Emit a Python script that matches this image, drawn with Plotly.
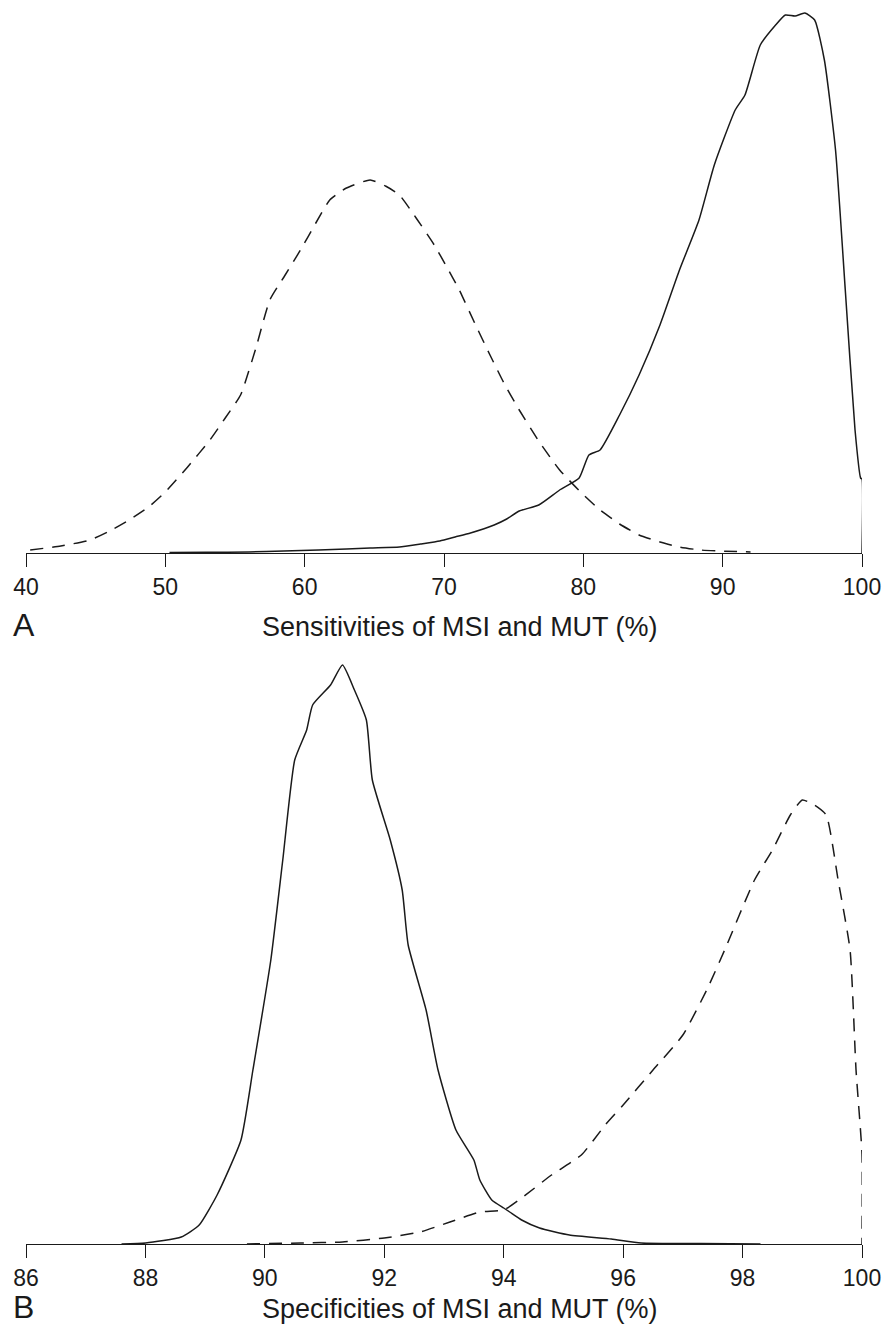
import plotly.graph_objects as go
from plotly.subplots import make_subplots

# Panel A: sensitivities (x in %, y = relative density)
sens_msi_x = [40.3, 42.5, 44.6, 46.0, 47.4, 48.8, 50.0, 51.6, 53.2, 54.3, 55.4, 56.5, 57.5, 58.6, 59.7,
              60.8, 61.8, 63.0, 64.7, 65.8, 66.8, 68.0, 69.3, 70.2, 71.1, 72.2, 73.3, 74.3, 75.4,
              76.8, 78.3, 79.8, 81.2, 82.6, 84.0, 85.5, 86.9, 88.4, 89.8, 92.0]
sens_msi_y = [3, 7, 13, 22, 33, 46, 61, 86, 113, 135, 158, 205, 253, 278, 303,
              330, 353, 365, 373, 367, 358, 335, 308, 286, 263, 230, 198, 170, 143,
              112, 83, 61, 43, 29, 18, 11, 6, 3, 2, 1]
sens_mut_x = [50.3, 53.0, 56.0, 58.5, 61.0, 63.0, 64.7, 66.8, 68.3, 69.7, 70.8, 71.9, 73.6, 74.5, 75.4,
              76.8, 78.3, 79.7, 80.4, 81.2, 82.6, 84.0, 85.5, 86.9, 88.3, 89.4, 90.9, 91.6,
              92.7, 93.8, 94.5, 95.2, 95.9, 96.6, 97.3, 98.1, 98.8, 99.5, 99.9, 100.0, 100.0]
sens_mut_y = [0.5, 0.7, 1, 2, 3, 4, 5, 6, 9, 12, 16, 20, 28, 34, 42,
              48, 63, 75, 98, 103, 138, 178, 228, 283, 333, 388, 443, 458,
              508, 528, 538, 537, 540, 533, 493, 403, 263, 123, 75, 74, 0]

# Panel B: specificities
spec_mut_x = [87.6, 88.0, 88.6, 88.9, 89.2, 89.6, 89.8, 90.1, 90.3, 90.5, 90.7, 90.8, 91.1, 91.3,
              91.5, 91.7, 91.8, 92.1, 92.3, 92.4, 92.7, 92.9, 93.2, 93.5, 93.6, 93.8, 94.0,
              94.1, 94.3, 94.6, 95.1, 95.8, 96.3, 97.3, 98.3]
spec_mut_y = [0, 1, 7, 19, 49, 104, 174, 284, 384, 484, 514, 539, 559, 579,
              554, 524, 464, 404, 354, 299, 234, 174, 114, 84, 64, 44, 36,
              32, 24, 16, 9, 5, 1, 0.5, 0]
spec_msi_x = [89.7, 90.6, 91.3, 92.0, 92.6, 93.1, 93.6, 94.0, 94.3, 94.8, 95.3, 95.7, 96.0, 96.5,
              97.0, 97.4, 97.7, 98.2, 98.5, 98.8, 99.0, 99.2, 99.4, 99.6, 99.8, 99.9, 100.0, 100.0]
spec_msi_y = [0, 1, 2, 6, 12, 22, 32, 34, 46, 69, 89, 119, 139, 174,
              209, 254, 294, 364, 394, 429, 444, 439, 429, 364, 294, 174, 90, 0]

sens_ticks = [40, 50, 60, 70, 80, 90, 100]
spec_ticks = [86, 88, 90, 92, 94, 96, 98, 100]

fig = make_subplots(rows=2, cols=1)

line_solid = dict(color="#1a1a1a", width=1.5, shape="spline", smoothing=0.5)
line_dash = dict(color="#1a1a1a", width=1.5, dash="13px,9px", shape="spline", smoothing=0.5)

fig.add_trace(go.Scatter(x=sens_msi_x, y=sens_msi_y, mode="lines", line=line_dash, name="MSI"), row=1, col=1)
fig.add_trace(go.Scatter(x=sens_mut_x, y=sens_mut_y, mode="lines", line=line_solid, name="MUT"), row=1, col=1)
fig.add_trace(go.Scatter(x=spec_mut_x, y=spec_mut_y, mode="lines", line=line_solid, name="MUT"), row=2, col=1)
fig.add_trace(go.Scatter(x=spec_msi_x, y=spec_msi_y, mode="lines", line=line_dash, name="MSI"), row=2, col=1)

H = 1334.0
axis_common = dict(showline=True, linecolor="#1a1a1a", linewidth=1.4, ticks="outside", ticklen=13,
                   tickwidth=1.4, tickcolor="#1a1a1a", showgrid=False, zeroline=False,
                   tickfont=dict(family="Liberation Sans, Arial, sans-serif", size=23, color="#1a1a1a"),
                   automargin=False)
fig.update_xaxes(range=[40, 100], tickvals=sens_ticks, row=1, col=1, **axis_common)
fig.update_xaxes(range=[86, 100], tickvals=spec_ticks, row=2, col=1, **axis_common)
fig.update_yaxes(visible=False, showgrid=False, zeroline=False, range=[0, 553], domain=[(H - 553) / H, 1.0], row=1, col=1)
fig.update_yaxes(visible=False, showgrid=False, zeroline=False, range=[0, 610], domain=[(H - 1244) / H, (H - 634) / H], row=2, col=1)

def px_x(p):
    return (p - 26) / 836.0

def px_y(p):
    return (H - p) / H

title_font = dict(family="Liberation Sans, Arial, sans-serif", size=27, color="#1a1a1a")
label_font = dict(family="Liberation Sans, Arial, sans-serif", size=32, color="#1a1a1a")
fig.add_annotation(text="Sensitivities of MSI and MUT (%)", x=px_x(460), y=px_y(627), xref="paper", yref="paper",
                   showarrow=False, font=title_font, xanchor="center", yanchor="middle")
fig.add_annotation(text="Specificities of MSI and MUT (%)", x=px_x(460), y=px_y(1309), xref="paper", yref="paper",
                   showarrow=False, font=title_font, xanchor="center", yanchor="middle")
fig.add_annotation(text="A", x=px_x(11), y=px_y(625), xref="paper", yref="paper",
                   showarrow=False, font=label_font, xanchor="left", yanchor="middle")
fig.add_annotation(text="B", x=px_x(11), y=px_y(1307), xref="paper", yref="paper",
                   showarrow=False, font=label_font, xanchor="left", yanchor="middle")

fig.update_layout(width=887, height=1334, margin=dict(l=26, r=25, t=0, b=0),
                  plot_bgcolor="white", paper_bgcolor="white", showlegend=False)

fig.write_html("out.html", config={"displayModeBar": False},
               post_script="document.body.style.margin='0';document.body.style.overflow='hidden';")
